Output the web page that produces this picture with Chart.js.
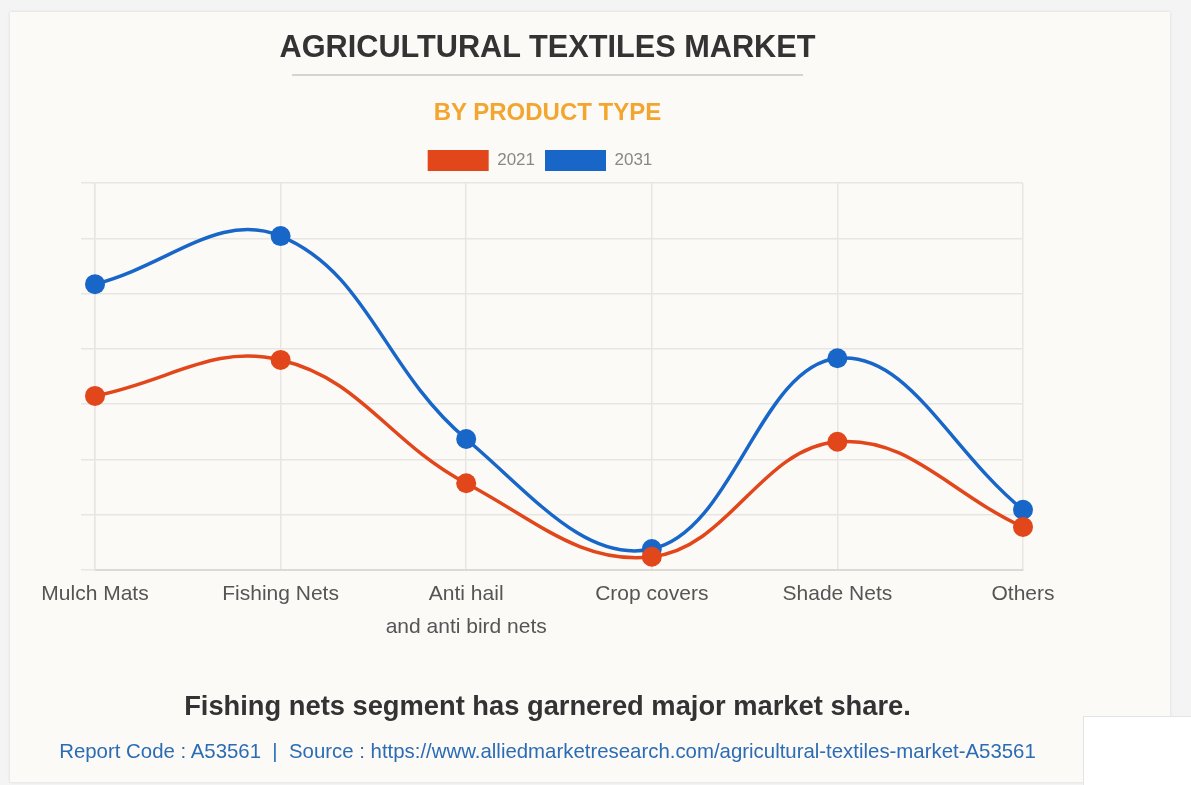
<!DOCTYPE html>
<html>
<head>
<meta charset="utf-8">
<script src="https://cdn.jsdelivr.net/npm/chart.js@4/dist/chart.umd.min.js"></script>
<style>
  html, body { margin:0; padding:0; width:1191px; height:785px; background:#f4f4f4; overflow:hidden; font-family:"Liberation Sans", Arial, sans-serif; }
  #card { position:absolute; left:10px; top:12px; width:1160px; height:770px; background:#fcfaf7; box-shadow:0 0 3px rgba(0,0,0,0.12); }
  #wrap { position:absolute; left:0; top:0; width:1191px; height:785px; }
  .t { position:absolute; left:0; width:1095px; text-align:center; white-space:nowrap; }
  #title { top:29px; font-size:30.7px; font-weight:bold; color:#333; }
  #rule { position:absolute; left:292px; top:74px; width:511px; height:2px; background:#d4d4d4; }
  #sub { top:98px; font-size:24px; font-weight:bold; color:#f3a62f; }
  #note { top:690px; font-size:27.3px; font-weight:bold; color:#333; }
  #src { top:740px; font-size:20.4px; color:#2b6cb5; }
  #corner { position:absolute; left:1083px; top:716px; width:108px; height:69px; background:#fff; border-top:1px solid #e4e4e4; border-left:1px solid #e4e4e4; }
</style>
</head>
<body>
<div id="card"></div>
<div id="corner"></div>
<div id="wrap"><canvas id="c" width="1191" height="785"></canvas></div>
<div class="t" id="title">AGRICULTURAL TEXTILES MARKET</div>
<div id="rule"></div>
<div class="t" id="sub">BY PRODUCT TYPE</div>
<div class="t" id="note">Fishing nets segment has garnered major market share.</div>
<div class="t" id="src">Report Code : A53561 &nbsp;|&nbsp; Source : https://www.alliedmarketresearch.com/agricultural-textiles-market-A53561</div>
<script>
const categories = ["Mulch Mats", "Fishing Nets", ["Anti hail", "and anti bird nets"], "Crop covers", "Shade Nets", "Others"];
const seriesNames = ["2021", "2031"];
const values2021 = [3.15, 3.80, 1.57, 0.24, 2.32, 0.78];
const values2031 = [5.17, 6.04, 2.37, 0.38, 3.83, 1.09];
const red = "#e2461b";
const blue = "#1766c8";

const shiftLegend = {
  id: "shiftLegend",
  afterLayout(chart) {
    if (chart.legend) {
      chart.legend.left -= 12; chart.legend.right -= 12;
      chart.legend.top -= 2; chart.legend.bottom -= 2;
    }
  }
};

new Chart(document.getElementById("c"), {
  type: "line",
  data: {
    labels: categories,
    datasets: [
      { label: seriesNames[0], data: values2021, borderColor: red, backgroundColor: red,
        borderWidth: 3.5, pointRadius: 10, pointHoverRadius: 10, pointBorderWidth: 0, tension: 0.4 },
      { label: seriesNames[1], data: values2031, borderColor: blue, backgroundColor: blue,
        borderWidth: 3.5, pointRadius: 10, pointHoverRadius: 10, pointBorderWidth: 0, tension: 0.4 }
    ]
  },
  plugins: [shiftLegend],
  options: {
    responsive: false,
    animation: false,
    layout: { padding: { left: 81, right: 168, top: 142, bottom: 133 } },
    plugins: {
      legend: {
        display: true,
        position: "top",
        labels: {
          boxWidth: 61, boxHeight: 21, padding: 10, color: "#888",
          font: { family: "Liberation Sans", size: 17 },
          generateLabels(chart) {
            const items = Chart.defaults.plugins.legend.labels.generateLabels(chart);
            items.forEach(it => { it.lineWidth = 0; });
            return items;
          }
        }
      },
      tooltip: { enabled: false },
      title: { display: false }
    },
    scales: {
      x: {
        offset: false,
        grid: { color: "#e8e6e3", lineWidth: 1.5, drawTicks: false },
        border: { color: "#dcdad7", width: 2 },
        ticks: { color: "#555", padding: 8, maxRotation: 0, autoSkip: false,
          font: { family: "Liberation Sans", size: 21, lineHeight: 1.57 } }
      },
      y: {
        min: 0, max: 7,
        grid: { color: "#e8e6e3", lineWidth: 1.5, drawTicks: true, tickLength: 14 },
        border: { color: "#e8e6e3", width: 1.5 },
        ticks: { display: false, stepSize: 1 }
      }
    }
  }
});
</script>
</body>
</html>
